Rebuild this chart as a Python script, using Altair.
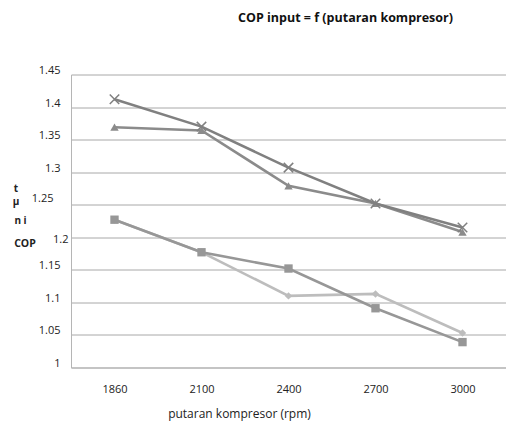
import altair as alt
import pandas as pd

rpm = ["1860", "2100", "2400", "2700", "3000"]
cop_cross = [1.412, 1.370, 1.307, 1.252, 1.215]
cop_tri = [1.369, 1.364, 1.279, 1.252, 1.208]
cop_sq = [1.227, 1.177, 1.152, 1.091, 1.039]
cop_dia = [1.227, 1.177, 1.110, 1.113, 1.053]
y_ticks = [1.0, 1.05, 1.1, 1.15, 1.2, 1.25, 1.3, 1.35, 1.4, 1.45]

FONT = "Open Sans"
GRID = "#a8a8a8"

x_enc = alt.X("rpm:N", sort=rpm, scale=alt.Scale(type="point", padding=0.5),
              axis=alt.Axis(title="putaran kompresor (rpm)", labelAngle=0, ticks=False,
                            domainColor="#b5b5b5", labelFont=FONT, labelFontSize=11,
                            labelColor="#222", labelPadding=16, grid=False,
                            titleFont=FONT, titleFontSize=12, titleFontWeight="normal",
                            titleColor="#222", titleX=168, titleY=46,
                            titleAlign="center", titleBaseline="middle"))
y_enc = alt.Y("cop:Q", scale=alt.Scale(domain=[1.0, 1.45], nice=False, zero=False),
              axis=alt.Axis(title=None, values=y_ticks, format=".2~f", ticks=False,
                            domainColor="#b5b5b5", gridColor=GRID, labelFont=FONT,
                            labelFontSize=11, labelColor="#222",
                            labelPadding={"condition": [
                                {"test": "abs(datum.value-1.25)<0.001", "value": 18},
                                {"test": "abs(datum.value-1.2)<0.001", "value": 3}],
                                "value": 11},
                            labelOffset={"condition": [
                                {"test": "abs(datum.value-1.25)<0.001", "value": -6},
                                {"test": "abs(datum.value-1.2)<0.001", "value": 2}],
                                "value": -4}))


def series(vals, color, shape, size, filled=True, stroke_w=1):
    df = pd.DataFrame({"rpm": rpm, "cop": vals})
    base = alt.Chart(df)
    line = base.mark_line(color=color, strokeWidth=2.6).encode(x=x_enc, y=y_enc)
    pt = base.mark_point(shape=shape, size=size, filled=filled, color=color,
                         strokeWidth=stroke_w, opacity=1).encode(x=x_enc, y=y_enc)
    return [line, pt]


layers = []
layers += series(cop_dia, "#bdbdbd", "diamond", 55)
layers += series(cop_sq, "#979797", "square", 70)
layers += series(cop_tri, "#8b8b8b", "triangle-up", 70)
layers += series(cop_cross, "#808080", "M-1,-1L1,1M-1,1L1,-1", 90, filled=False, stroke_w=1.5)

frags = [("t", -55, 114, 10), ("µ", -55, 127, 10), ("n i", -50.5, 146.5, 10), ("COP", -46, 169.5, 10.5)]
for txt, px, py, fs in frags:
    layers.append(
        alt.Chart(alt.Data(values=[{"a": 1}])).mark_text(
            text=txt, font=FONT, fontSize=fs, fontWeight="bold", color="#222",
            align="center", baseline="middle"
        ).encode(x=alt.value(px), y=alt.value(py))
    )

chart = alt.layer(*layers).properties(
    width=435, height=293, autosize="none",
    padding={"left": 63, "top": 66.5, "right": 0, "bottom": 53.5},
    title=alt.TitleParams("COP input = f (putaran kompresor)", font=FONT, fontSize=12.5,
                          fontWeight="bold", color="#111", anchor="middle", frame="group",
                          dx=57, offset=40),
).configure_view(stroke=None)

chart.save("out.html", embed_options={"renderer": "svg", "actions": False})
